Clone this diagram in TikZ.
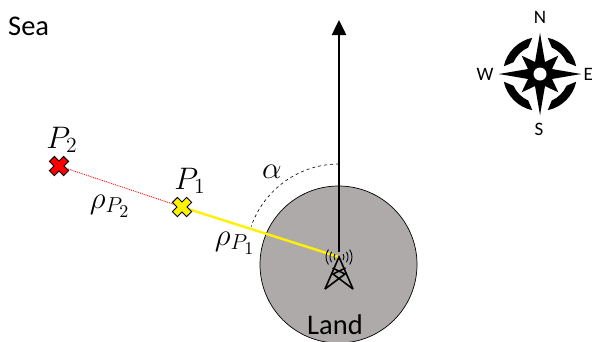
\documentclass[tikz,border=0pt]{standalone}
\usepackage{fontspec}
\setmainfont{Carlito}
\usepackage{amsmath}
\usepackage{tikz}
\usetikzlibrary{arrows.meta,calc}
\definecolor{landgray}{HTML}{AEAAAA}

\begin{document}
\begin{tikzpicture}[
    x=1pt, y=-1pt,
    every node/.style={inner sep=0pt},
    bigtext/.style={font=\fontsize{28.5}{32}\selectfont},
    dirtext/.style={font=\fontsize{19}{22}\selectfont},
    mathtext/.style={font=\LARGE, scale=1.8},
    marker/.style={draw=black, line width=0.9pt, line join=miter},
    wave/.style={line width=0.9pt},
    tower/.style={line width=1.6pt, line join=miter}
]
    \useasboundingbox (0,0) rectangle (593,341);
    \clip (0,0) rectangle (593,341);

    % Points
    \coordinate (mast) at (339,257);
    \coordinate (north) at (339,20);
    \coordinate (pone) at (182,207);
    \coordinate (ptwo) at (59,166);
    \coordinate (compass) at (540,74);

    % Land
    \node[circle, draw=black, fill=landgray, line width=0.7pt, minimum size=157pt] (land) at (338.5,264.5) {};
    \node[bigtext] (landtext) at (335,325) {Land};
    \node[bigtext, anchor=west] (sea) at (8,26) {Sea};

    % Connections
    \draw[line width=2.5pt, -{Triangle[width=14pt,length=15pt]}] ($(mast)+(0,-5)$) -- (north);
    \draw[red, line width=0.9pt, densely dotted] (ptwo) -- (pone);
    \draw[yellow, line width=2.4pt] (pone) -- (mast);
    \draw[black, line width=0.6pt, dashed] ($(mast)+(0,-93)$) arc[start angle=-90, end angle=-161, radius=93];

    % Tower
    \foreach \r in {5,9,13} {
        \draw[wave] ($(mast)+(-35:\r)$) arc[start angle=-35, end angle=35, radius=\r];
        \draw[wave] ($(mast)+(145:\r)$) arc[start angle=145, end angle=215, radius=\r];
    }
    \draw[tower] (325,289) -- (mast) -- (353,289);
    \draw[tower] (325,289) -- (345,274) -- (332.5,268) (353,289) -- (333,274) -- (345.5,268);

    % Markers
    \foreach \pt/\col in {ptwo/red, pone/yellow} {
        \draw[marker, fill=\col, rotate around={45:(\pt)}]
            ($(\pt)+(-3.6,-10)$) -- ++(7.2,0) -- ++(0,6.4) -- ++(6.4,0) -- ++(0,7.2) -- ++(-6.4,0)
            -- ++(0,6.4) -- ++(-7.2,0) -- ++(0,-6.4) -- ++(-6.4,0) -- ++(0,-7.2) -- ++(6.4,0) -- cycle;
    }

    % Labels
    \node[mathtext] (lptwo) at (62,140) {$P_2$};
    \node[mathtext] (lpone) at (190,181) {$P_1$};
    \node[mathtext] (lrhotwo) at (110,206) {$\rho_{P_2}$};
    \node[mathtext] (lrhoone) at (235,243) {$\rho_{P_1}$};
    \node[mathtext] (lalpha) at (272,172) {$\alpha$};

    % Compass
    \foreach \a in {0,90,180,270} {
        \fill[black, shift={(compass)}] (\a+12:37) arc[start angle=\a+12, end angle=\a+78, radius=37]
            -- (\a+66:29) arc[start angle=\a+66, end angle=\a+24, radius=29] -- cycle;
        \fill[black, shift={(compass)}] (0,0) -- (\a:41) -- (\a+22.5:13) -- (\a+45:26) -- (\a+67.5:13) -- (\a+90:41) -- cycle;
    }
    \fill[white] (compass) circle (6.5);
    \node[dirtext] (dirn) at (540,17) {N};
    \node[dirtext] (dirs) at (539,129) {S};
    \node[dirtext] (dirw) at (485,74) {W};
    \node[dirtext, anchor=east] (dire) at (593,74) {E};
\end{tikzpicture}
\end{document}
